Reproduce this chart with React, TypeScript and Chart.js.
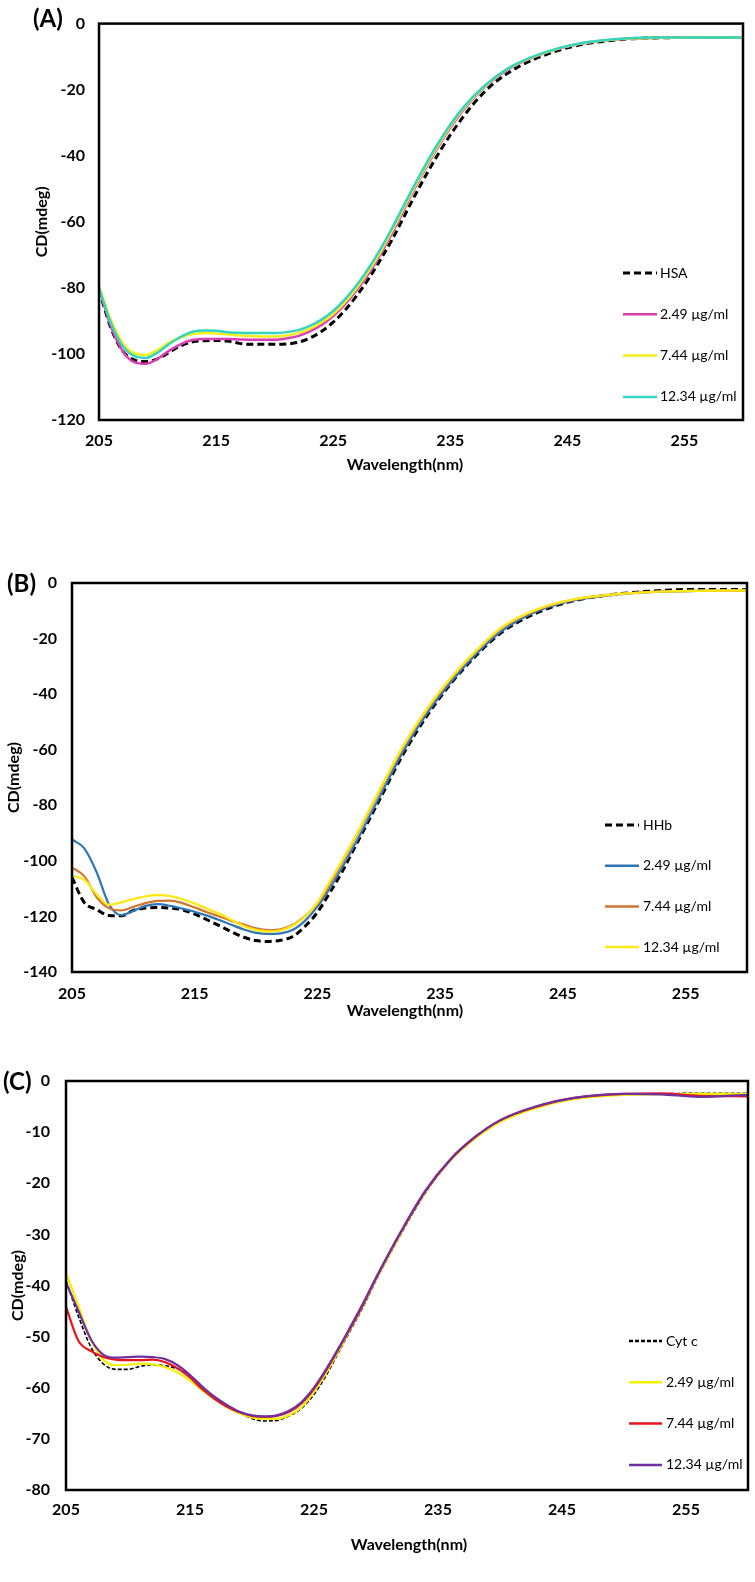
import React, { useEffect, useRef } from "react";
import { Chart, registerables } from "chart.js";
Chart.register(...registerables);

// ---------- DATA ----------
const WAVELENGTHS = [205,206,207,208,209,210,211,212,213,214,215,216,217,218,219,220,221,222,223,224,225,226,227,228,229,230,232,234,236,238,240,243,246,250,253,256,260];
const X_TICKS = [205, 215, 225, 235, 245, 255];
const X_TITLE = "Wavelength(nm)";
const Y_TITLE = "CD(mdeg)";

// Panel A (HSA)
const A_LABELS = ["HSA", "2.49 µg/ml", "7.44 µg/ml", "12.34 µg/ml"];
const A_HSA = [-80.5,-92,-99,-101.8,-102.3,-101.5,-99.5,-97.5,-96.3,-96,-95.9,-96.1,-96.8,-97.1,-97.1,-97.1,-97,-96.5,-95.2,-93.2,-90.4,-86.8,-82.4,-77.4,-71.7,-65.6,-51.9,-39.3,-28.7,-20.4,-14.8,-9.6,-6.5,-4.7,-4.3,-4.2,-4.2];
const A_249 = [-80,-91.5,-99,-102.5,-103,-101.5,-99,-97,-95.8,-95.5,-95.5,-95.5,-95.6,-95.7,-95.7,-95.7,-95.3,-94.6,-93.2,-91.2,-88.5,-85,-80.7,-75.8,-70.1,-63.6,-49.7,-37.1,-26.7,-19,-13.7,-9,-6.2,-4.6,-4.3,-4.2,-4.2];
const A_744 = [-79.5,-89.5,-96.5,-99.8,-100.3,-98.8,-96.5,-95,-94,-93.7,-93.8,-94.1,-94.4,-94.6,-94.7,-94.7,-94.4,-93.7,-92.4,-90.5,-87.9,-84.4,-80.1,-75.1,-69.4,-62.9,-49.2,-36.6,-26.3,-18.8,-13.5,-8.9,-6.1,-4.6,-4.3,-4.2,-4.2];
const A_1234 = [-80,-90.5,-97.5,-100.6,-101.2,-99.6,-97,-94.8,-93.3,-92.9,-93,-93.4,-93.6,-93.7,-93.7,-93.7,-93.4,-92.8,-91.5,-89.6,-87,-83.5,-79.2,-74.2,-68.5,-62.1,-48.5,-36,-25.9,-18.6,-13.4,-8.8,-6,-4.5,-4.2,-4.2,-4.2];

// Panel B (HHb)
const B_LABELS = ["HHb", "2.49 µg/ml", "7.44 µg/ml", "12.34 µg/ml"];
const B_HHB = [-106,-115,-117.5,-119.7,-119.8,-117.8,-117,-116.8,-117,-117.6,-119.2,-121.2,-123.3,-125.5,-127.5,-128.7,-129,-128.6,-127.2,-123.5,-118.5,-111.5,-104,-95.5,-87,-78.5,-61.5,-47.3,-35.5,-25.8,-17.8,-10.5,-6.3,-3.7,-2.7,-2.3,-2.4];
const B_249 = [-92.3,-95.5,-104,-115.5,-119.5,-118,-116.2,-115.6,-116.2,-117.2,-118.3,-119.7,-121.3,-123,-124.7,-125.9,-126.3,-126.1,-124.8,-121.5,-116.5,-110,-102.5,-94.5,-86,-77.5,-60.5,-46.5,-35,-25.3,-17.3,-10,-6.2,-3.9,-3.1,-2.8,-2.7];
const B_744 = [-102.4,-105.5,-113,-117,-117.8,-116.5,-115.2,-114.4,-114.3,-115.2,-116.8,-118.5,-120,-121.6,-122.9,-124.3,-124.9,-124.6,-123,-119.8,-115.5,-108.5,-100.8,-92.5,-84,-75.5,-59,-45.2,-33.8,-24.3,-16.3,-9.5,-5.9,-3.8,-3.1,-2.8,-2.7];
const B_1234 = [-105.3,-106.8,-112,-115.8,-115,-113.8,-112.8,-112.3,-112.7,-113.8,-115.4,-117.2,-119,-121.3,-123.5,-124.9,-125.4,-125,-123.3,-120,-115,-107.5,-100,-92,-83.5,-75,-58.5,-44.8,-33.5,-24,-16,-9.3,-5.8,-3.8,-3.1,-2.8,-2.7];

// Panel C (Cyt c)
const C_LABELS = ["Cyt c", "2.49 µg/ml", "7.44 µg/ml", "12.34 µg/ml"];
const C_CYT = [-39,-46,-52,-55.3,-56.4,-56.4,-55.8,-55.5,-55.7,-56.3,-57.6,-59.8,-61.9,-63.6,-64.9,-66,-66.5,-66.4,-65.5,-64,-61.3,-57.5,-53,-48.5,-44,-39,-30,-21.8,-15.5,-11,-7.8,-5,-3.4,-2.6,-2.5,-2.4,-2.4];
const C_249 = [-37.5,-44,-50.5,-54.5,-55.6,-55.5,-55.3,-55.4,-56,-57,-58.6,-60.5,-62.2,-63.8,-65,-65.8,-66.1,-66.1,-65.4,-63.8,-60.8,-57,-52.7,-48.2,-43.7,-38.8,-29.8,-21.6,-15.5,-11.2,-8,-5.2,-3.5,-2.7,-2.6,-2.5,-2.5];
const C_744 = [-44.2,-50.8,-52.8,-54,-54.5,-54.6,-54.6,-54.5,-55,-56.2,-58,-60.3,-62.2,-63.7,-64.8,-65.5,-65.7,-65.5,-64.7,-63,-60.2,-56.5,-52.3,-48,-43.5,-38.6,-29.6,-21.5,-15.4,-11,-7.7,-5,-3.3,-2.5,-2.4,-2.9,-3];
const C_1234 = [-39.4,-45,-50.5,-53.5,-54.1,-54,-53.9,-54,-54.4,-55.6,-57.5,-59.8,-61.8,-63.4,-64.7,-65.4,-65.6,-65.4,-64.5,-62.8,-60,-56.3,-52.2,-47.8,-43.3,-38.5,-29.5,-21.4,-15.3,-10.9,-7.7,-4.9,-3.3,-2.5,-2.6,-3.1,-2.7];

// ---------- STYLE / LAYOUT ----------
const FONT = "Lato, 'Open Sans', sans-serif";
const PAGE_W = 755;
const TICK_SIZE = 16;
const TITLE_SIZE = 16;

const PANELS = [
  {
    id: "(A)", top: 0, H: 490,
    area: { left: 99, top: 9, right: 743, bottom: 420 },
    yMin: -120, yStep: 20,
    yTickPad: 14, xTickPad: 11, yTitlePad: 32.4,
    xTitle: { x: 405, y: 465 },
    tag: { x: 33, y: 19 },
    legend: { x1: 623, x2: 657, tx: 660, y0: 273, dy: 41.3 },
    series: [
      { label: A_LABELS[0], values: A_HSA, color: "#000000", width: 3, dash: [7, 4] },
      { label: A_LABELS[1], values: A_249, color: "#DC3CB4", width: 2.5 },
      { label: A_LABELS[2], values: A_744, color: "#F6EE1C", width: 2.5 },
      { label: A_LABELS[3], values: A_1234, color: "#33D4C0", width: 2.5 },
    ],
  },
  {
    id: "(B)", top: 490, H: 555,
    area: { left: 72, top: 93, right: 747, bottom: 482 },
    yMin: -140, yStep: 20,
    yTickPad: 15, xTickPad: 12, yTitlePad: 4.4,
    xTitle: { x: 405, y: 521 },
    tag: { x: 7, y: 94 },
    legend: { x1: 605, x2: 639, tx: 643, y0: 335, dy: 40.7 },
    series: [
      { label: B_LABELS[0], values: B_HHB, color: "#000000", width: 3, dash: [7, 4] },
      { label: B_LABELS[1], values: B_249, color: "#2E75B6", width: 2.2 },
      { label: B_LABELS[2], values: B_744, color: "#D2762F", width: 2.2 },
      { label: B_LABELS[3], values: B_1234, color: "#FFE81A", width: 2.4 },
    ],
  },
  {
    id: "(C)", top: 1045, H: 537,
    area: { left: 66, top: 36, right: 748, bottom: 445 },
    yMin: -80, yStep: 10,
    yTickPad: 16, xTickPad: 10, yTitlePad: 8.4,
    xTitle: { x: 409, y: 500 },
    tag: { x: 3, y: 37 },
    legend: { x1: 629, x2: 662, tx: 666, y0: 296, dy: 41.3 },
    series: [
      { label: C_LABELS[0], values: C_CYT, color: "#000000", width: 1.6, dash: [4, 2] },
      { label: C_LABELS[1], values: C_249, color: "#F5F000", width: 2.2 },
      { label: C_LABELS[2], values: C_744, color: "#E8141C", width: 2.2 },
      { label: C_LABELS[3], values: C_1234, color: "#7030A0", width: 2.2 },
    ],
  },
];

const decorPlugin = {
  id: "decor",
  afterDatasetsDraw(chart: any, _args: any, opts: any) {
    const ctx = chart.ctx;
    const a = chart.chartArea;
    ctx.save();
    // plot border
    ctx.strokeStyle = "#000";
    ctx.lineWidth = 2.5;
    ctx.setLineDash([]);
    ctx.strokeRect(a.left, a.top, a.right - a.left, a.bottom - a.top);
    // x-axis title
    ctx.fillStyle = "#000";
    ctx.textBaseline = "middle";
    ctx.textAlign = "center";
    ctx.font = `bold ${TITLE_SIZE}px ${FONT}`;
    ctx.fillText(opts.xTitleText, opts.xTitleX, opts.xTitleY);
    // panel tag
    ctx.font = `bold 24px ${FONT}`;
    ctx.textAlign = "left";
    ctx.fillText(opts.tag, opts.tagX, opts.tagY);
    // legend
    const L = opts.legend;
    ctx.font = `14px ${FONT}`;
    chart.data.datasets.forEach((ds: any, i: number) => {
      const y = L.y0 + i * L.dy;
      ctx.beginPath();
      ctx.strokeStyle = ds.borderColor;
      ctx.lineWidth = Math.max(ds.borderWidth, 2.5);
      ctx.setLineDash(ds.borderDash || []);
      ctx.moveTo(L.x1, y);
      ctx.lineTo(L.x2, y);
      ctx.stroke();
      ctx.setLineDash([]);
      ctx.fillStyle = "#000";
      ctx.fillText(ds.label, L.tx, y);
    });
    ctx.restore();
  },
};

function buildConfig(p: any) {
  const n = p.series.length;
  const tickFont = { family: FONT, size: TICK_SIZE, weight: "bold" };
  const titleFont = { family: FONT, size: TITLE_SIZE, weight: "bold" };
  return {
    type: "line",
    data: {
      datasets: p.series.map((s: any, i: number) => ({
        label: s.label,
        data: WAVELENGTHS.map((w, j) => ({ x: w, y: s.values[j] })),
        borderColor: s.color,
        backgroundColor: s.color,
        borderWidth: s.width,
        borderDash: s.dash || [],
        pointRadius: 0,
        fill: false,
        tension: 0.4,
        cubicInterpolationMode: "monotone",
        order: n - i,
      })),
    },
    options: {
      animation: false,
      responsive: false,
      maintainAspectRatio: false,
      events: [],
      layout: { padding: { left: 0, top: p.area.top, right: PAGE_W - p.area.right, bottom: 0 } },
      plugins: {
        legend: { display: false },
        tooltip: { enabled: false },
        decor: {
          tag: p.id, tagX: p.tag.x, tagY: p.tag.y, legend: p.legend,
          xTitleText: X_TITLE, xTitleX: p.xTitle.x, xTitleY: p.xTitle.y,
        },
      },
      scales: {
        x: {
          type: "linear",
          min: 205,
          max: 260,
          grid: { display: false, drawTicks: false },
          border: { display: false },
          afterBuildTicks: (s: any) => { s.ticks = X_TICKS.map((v) => ({ value: v })); },
          afterFit: (s: any) => { s.height = p.H - p.area.bottom; },
          ticks: { autoSkip: false, maxRotation: 0, padding: p.xTickPad, color: "#000", font: tickFont },
          title: { display: false },
        },
        y: {
          type: "linear",
          min: p.yMin,
          max: 0,
          grid: { display: false, drawTicks: false },
          border: { display: false },
          afterFit: (s: any) => { s.width = p.area.left; },
          ticks: { stepSize: p.yStep, padding: p.yTickPad, color: "#000", font: tickFont },
          title: { display: true, text: Y_TITLE, color: "#000", font: titleFont, padding: { top: p.yTitlePad, bottom: 0 } },
        },
      },
    },
    plugins: [decorPlugin],
  };
}

function Panel({ p }: { p: any }) {
  const ref = useRef<HTMLCanvasElement | null>(null);
  useEffect(() => {
    if (!ref.current) return;
    const chart = new Chart(ref.current, buildConfig(p) as any);
    return () => chart.destroy();
  }, [p]);
  return (
    <canvas
      ref={ref}
      width={PAGE_W}
      height={p.H}
      style={{ position: "absolute", left: 0, top: p.top, width: PAGE_W, height: p.H, display: "block" }}
    />
  );
}

export default function App() {
  return (
    <div style={{ position: "absolute", left: 0, top: 0, width: PAGE_W, height: 1582, background: "#fff", overflow: "hidden" }}>
      {PANELS.map((p) => (
        <Panel key={p.id} p={p} />
      ))}
    </div>
  );
}
